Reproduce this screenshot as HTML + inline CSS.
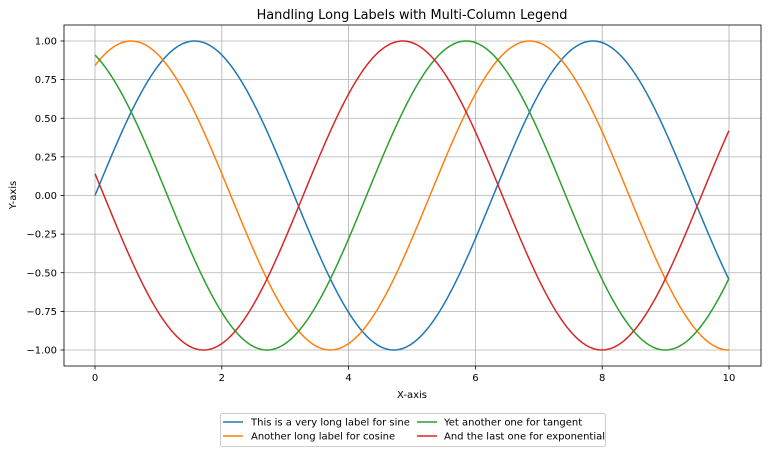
<!DOCTYPE html>
<html><head><style>body{margin:0;background:#fff}svg{font-family:"DejaVu Sans","Liberation Sans",sans-serif}</style></head><body>
<svg id="s" width="768" height="454" xmlns="http://www.w3.org/2000/svg">
<rect width="768" height="454" fill="#fff"/>
<g id="grid" stroke="#b0b0b0" stroke-width="0.8"></g>
<g id="curves" fill="none" stroke-width="1.5"></g>
<rect x="64" y="25" width="697" height="341" fill="none" stroke="#000" stroke-width="0.8"/>
<g id="ticks" font-size="10" fill="#000"></g>
<text x="412" y="19" font-size="12.9" text-anchor="middle">Handling Long Labels with Multi-Column Legend</text>
<text x="412" y="398" font-size="10" text-anchor="middle">X-axis</text>
<text x="16" y="195" font-size="10" text-anchor="middle" transform="rotate(-90 16 195)">Y-axis</text>
<rect x="220.5" y="413.5" width="385" height="33" rx="2" fill="#fff" stroke="#ccc"/>
<g font-size="10">
<line x1="223" y1="422" x2="243" y2="422" stroke="#1f77b4" stroke-width="1.5"/><text x="251" y="425.5">This is a very long label for sine</text>
<line x1="223" y1="436" x2="243" y2="436" stroke="#ff7f0e" stroke-width="1.5"/><text x="251" y="439.5">Another long label for cosine</text>
<line x1="417" y1="422" x2="437" y2="422" stroke="#2ca02c" stroke-width="1.5"/><text x="444" y="425.5">Yet another one for tangent</text>
<line x1="417" y1="436" x2="437" y2="436" stroke="#d62728" stroke-width="1.5"/><text x="444" y="439.5">And the last one for exponential</text>
</g>
</svg>
<script>
var X=function(x){return 95+x*63.4},Y=function(y){return 195.5-y*154.5};
var ns="http://www.w3.org/2000/svg",g=document.getElementById("grid"),t=document.getElementById("ticks"),c=document.getElementById("curves");
function el(p,n,a,txt){var e=document.createElementNS(ns,n);for(var k in a)e.setAttribute(k,a[k]);if(txt!=null)e.textContent=txt;p.appendChild(e);}
for(var x=0;x<=10;x+=2){el(g,"line",{x1:X(x),x2:X(x),y1:25,y2:366});el(t,"line",{x1:X(x),x2:X(x),y1:366,y2:369.5,stroke:"#000","stroke-width":0.8});el(t,"text",{x:X(x),y:381,"text-anchor":"middle"},x);}
for(var i=-4;i<=4;i++){var y=i/4;el(g,"line",{x1:64,x2:761,y1:Y(y),y2:Y(y)});el(t,"line",{x1:60.5,x2:64,y1:Y(y),y2:Y(y),stroke:"#000","stroke-width":0.8});el(t,"text",{x:57,y:Y(y)+3.5,"text-anchor":"end"},(y<0?"\u2212":"")+Math.abs(y).toFixed(2));}
["#1f77b4","#ff7f0e","#2ca02c","#d62728"].forEach(function(col,k){var d="";for(var j=0;j<=400;j++){var x=j/40;d+=(j?"L":"M")+X(x).toFixed(2)+" "+Y(Math.sin(x+k)).toFixed(2);}el(c,"path",{d:d,stroke:col});});
</script>
</body></html>
